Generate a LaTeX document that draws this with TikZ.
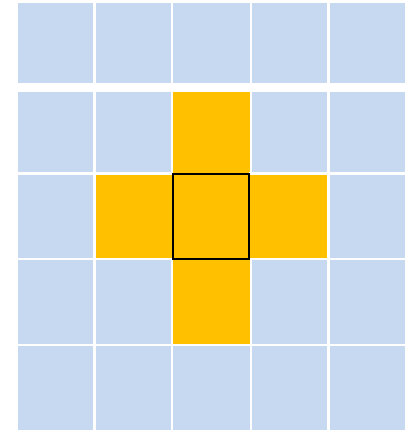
\documentclass[tikz,border=0pt]{standalone}
\usepackage{xcolor}
\definecolor{cellblue}{HTML}{C6D9F0}
\definecolor{cellorange}{HTML}{FFC000}
\begin{document}
\begin{tikzpicture}[x=1pt,y=-1pt,
  cellbox/.style={fill=cellblue,draw=none},
  hotbox/.style={fill=cellorange,draw=none},
  framebox/.style={draw=black,line width=2.1pt,fill=none}]
\useasboundingbox (0,0) rectangle (411,430);
% column edges
\def\xa{17.3}\def\xb{92.5}
\def\xc{95.3}\def\xd{171}
\def\xe{173}\def\xf{249.3}
\def\xg{251.3}\def\xh{327}
\def\xi{329.3}\def\xj{404.8}
% row edges
\def\ya{3}\def\yb{83.3}
\def\yc{91.7}\def\yd{172.3}
\def\ye{174.7}\def\yf{257.3}
\def\yg{260}\def\yh{343.3}
\def\yi{345.7}\def\yj{429.3}
\foreach \l/\r [count=\c] in {\xa/\xb,\xc/\xd,\xe/\xf,\xg/\xh,\xi/\xj}{
  \foreach \t/\b [count=\rr] in {\ya/\yb,\yc/\yd,\ye/\yf,\yg/\yh,\yi/\yj}{
    \node[cellbox,inner sep=0pt,minimum width={\r-\l},minimum height={\b-\t},anchor=north west] (c\c\rr) at (\l,\t) {};
  }
}
% orange cross
\node[hotbox,inner sep=0pt,minimum width={\xf-\xe},minimum height={\yd-\yc},anchor=north west] (o32) at (\xe,\yc) {};
\node[hotbox,inner sep=0pt,minimum width={\xh-\xc},minimum height={\yf-\ye},anchor=north west] (o23) at (\xc,\ye) {};
\node[hotbox,inner sep=0pt,minimum width={\xf-\xe},minimum height={\yh-\yg},anchor=north west] (o34) at (\xe,\yg) {};
\fill[cellorange] (\xe,\yd) rectangle (\xf,\yg);
% black frame
\node[framebox,inner sep=0pt,minimum width=76.2pt,minimum height=84.9pt,anchor=north west] (frame) at (171.7,172.7) {};
\end{tikzpicture}
\end{document}
